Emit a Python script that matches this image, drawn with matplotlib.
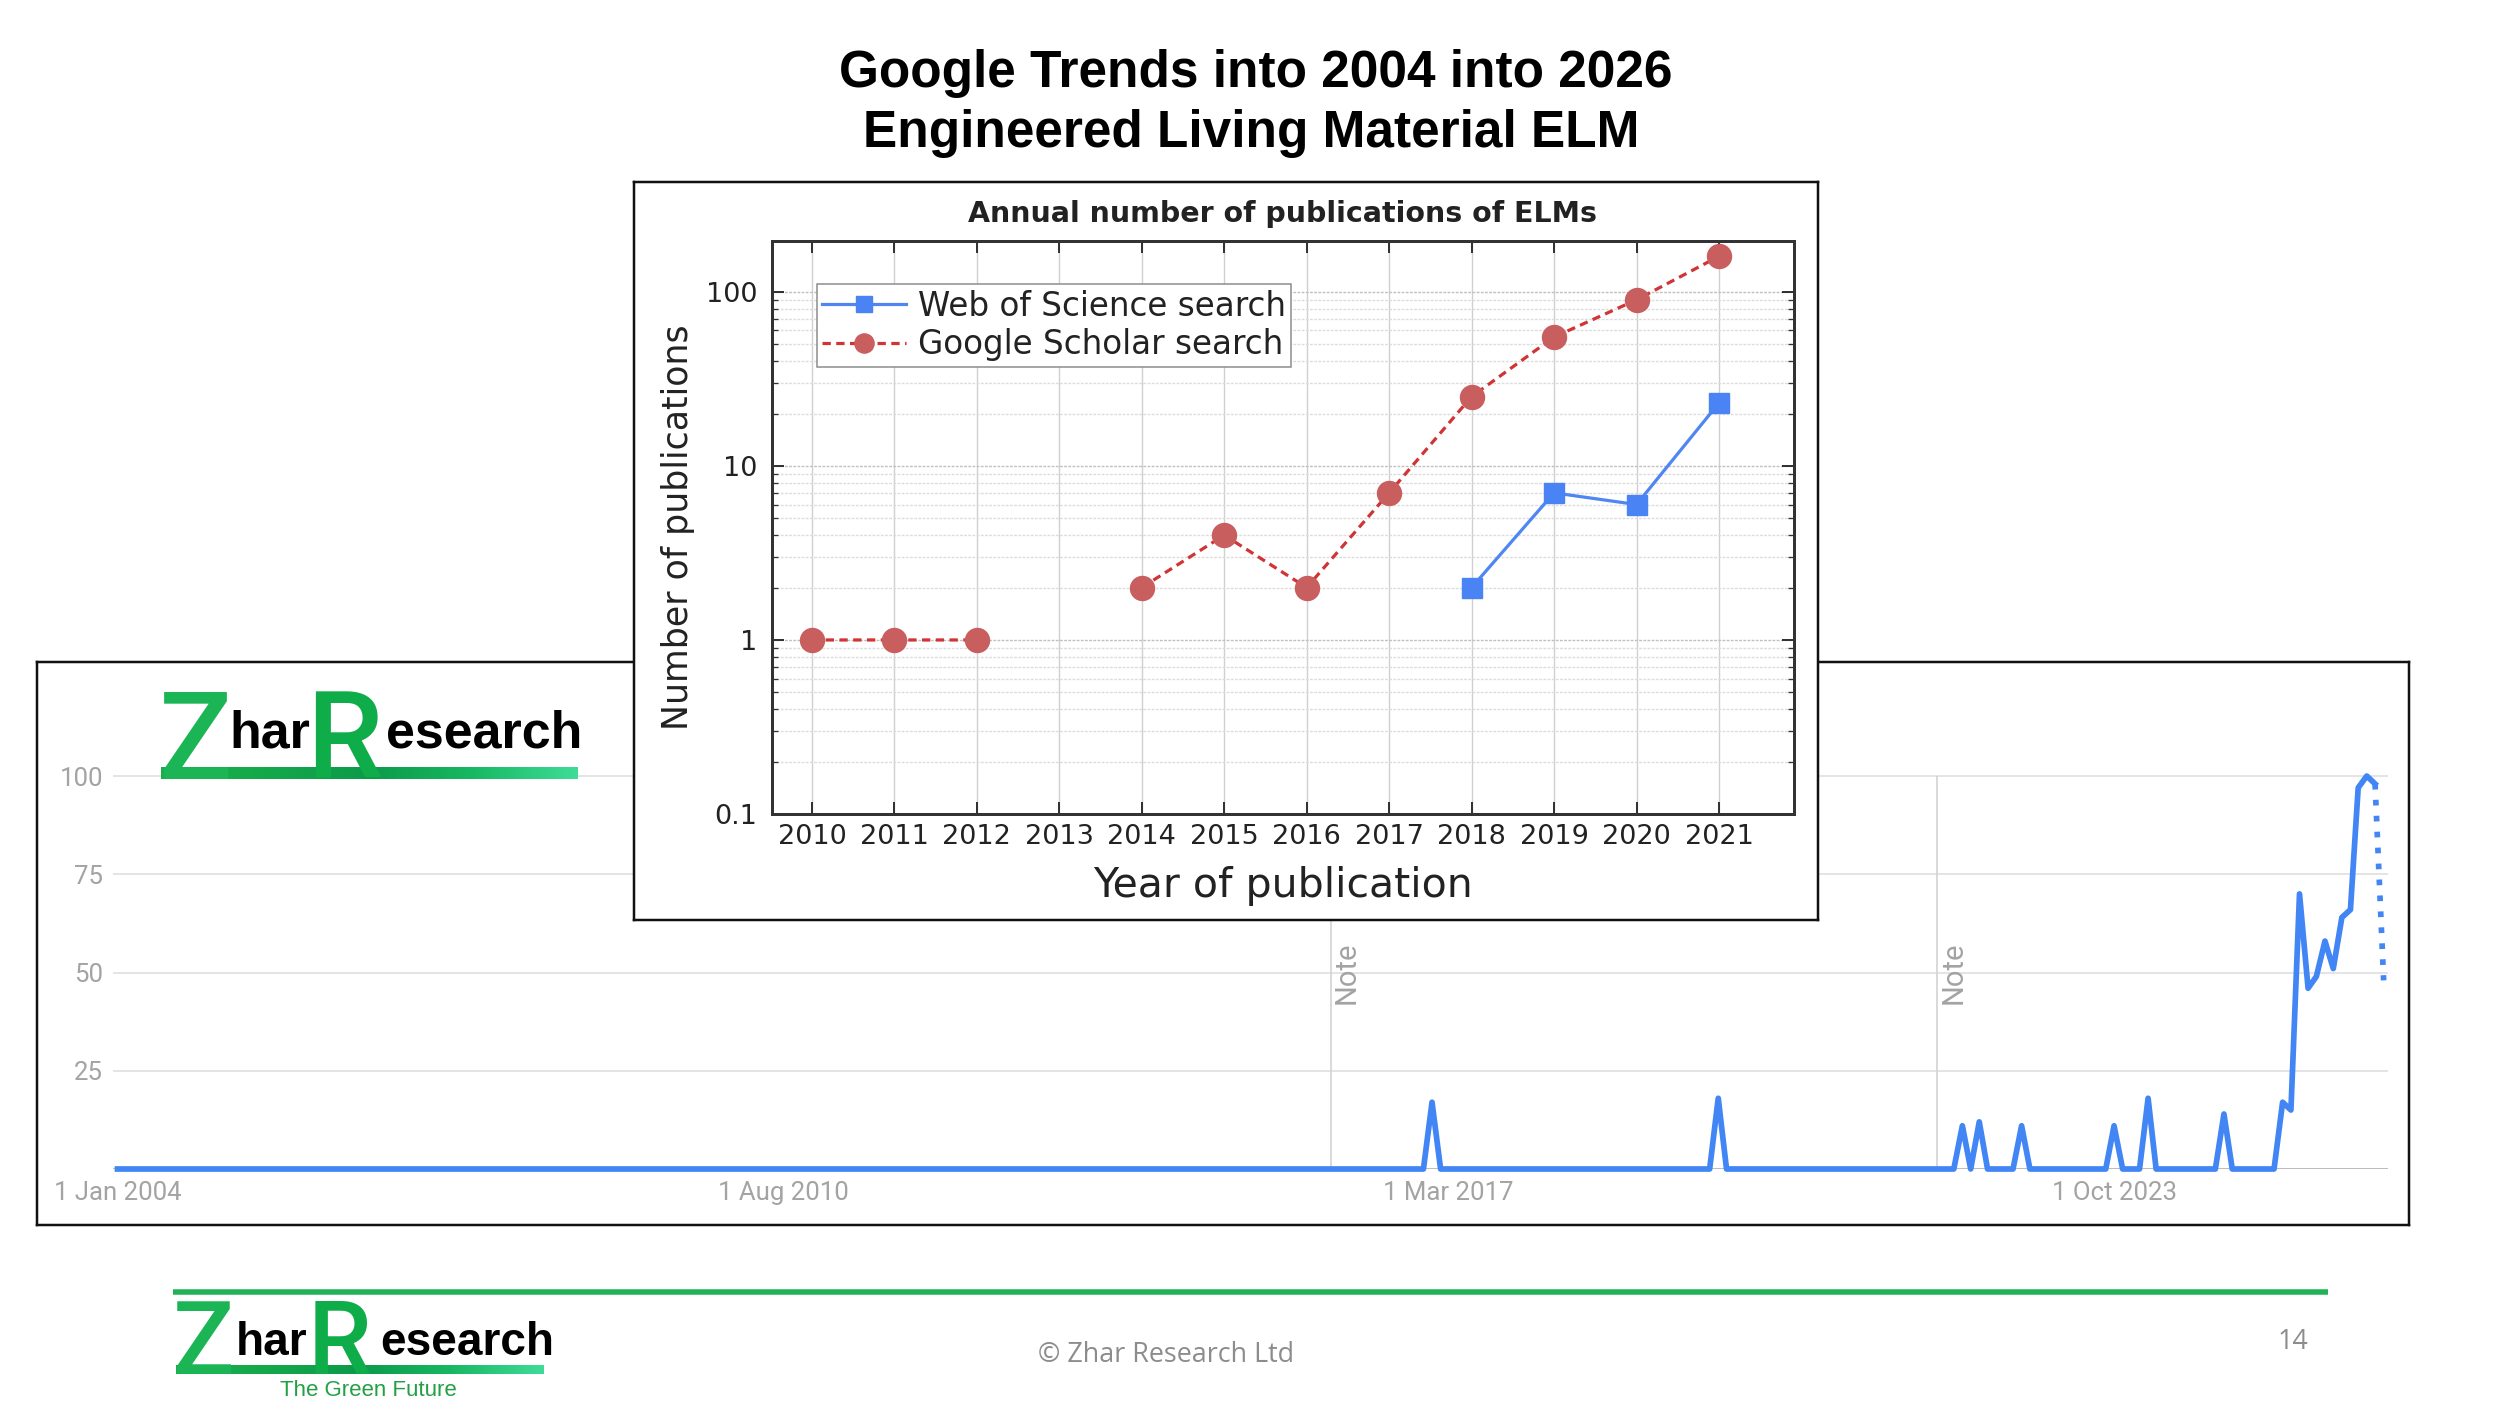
import numpy as np
import pandas as pd
import matplotlib
matplotlib.use("Agg")
import matplotlib.pyplot as plt
import matplotlib.dates as mdates
from matplotlib.ticker import LogLocator, NullFormatter
from matplotlib.colors import LinearSegmentedColormap

# ---------------- data ----------------
title_lines = ["Google Trends into 2004 into 2026", "Engineered Living Material ELM"]

# Google Trends monthly interest (0-100); months not listed are 0
trend_start = "2004-01"
trend_end = "2026-06"
trend_peak_months = ["2017-01", "2019-11", "2022-04", "2022-06", "2022-11", "2023-10",
                     "2024-02", "2024-11", "2025-06", "2025-07", "2025-08", "2025-09",
                     "2025-10", "2025-11", "2025-12", "2026-01", "2026-02", "2026-03",
                     "2026-04", "2026-05", "2026-06"]
trend_peak_values = [17, 18, 11, 12, 11, 11,
                     18, 14, 17, 15, 70, 46,
                     49, 58, 51, 64, 66, 97,
                     100, 98, 48]
trend_xtick_dates = ["2004-01-01", "2010-08-01", "2017-03-01", "2023-10-01"]
trend_xtick_labels = ["1 Jan 2004", "1 Aug 2010", "1 Mar 2017", "1 Oct 2023"]
trend_yticks = [25, 50, 75, 100]
note_dates = ["2016-01-01", "2022-01-01"]

pub_years = [2010, 2011, 2012, 2013, 2014, 2015, 2016, 2017, 2018, 2019, 2020, 2021]
scholar_counts = [1, 1, 1, np.nan, 2, 4, 2, 7, 25, 55, 90, 160]
wos_years = [2018, 2019, 2020, 2021]
wos_counts = [2, 7, 6, 23]
inset_yticks = [0.1, 1, 10, 100]
inset_yticklabels = ["0.1", "1", "10", "100"]

# ---------------- layout helpers ----------------
W, H = 2500, 1406
PT = 0.72  # points per pixel at dpi=100
fig = plt.figure(figsize=(25, 14.06), dpi=100)
fig.patch.set_facecolor("white")


def frac(x0, y0, x1, y1):
    return [x0 / W, 1 - y1 / H, (x1 - x0) / W, (y1 - y0) / H]


def box_axes(rect, z, lw):
    a = fig.add_axes(rect, zorder=z)
    a.set_xticks([])
    a.set_yticks([])
    a.set_facecolor("white")
    for s in a.spines.values():
        s.set_color("#111111")
        s.set_linewidth(lw * PT)
    return a


# ---------------- Google Trends panel ----------------
ax_tbox = box_axes(frac(37, 662, 2409, 1225), 1, 2.5)

ax_t = fig.add_axes(frac(113, 760, 2388, 1169), zorder=2)
ax_t.set_facecolor("none")
for s in ax_t.spines.values():
    s.set_visible(False)

months = pd.period_range(trend_start, trend_end, freq="M")
vals = pd.Series(0.0, index=months)
vals[pd.PeriodIndex(trend_peak_months, freq="M")] = trend_peak_values
tx = mdates.date2num(months.to_timestamp())
tv = vals.values

d0 = mdates.date2num(pd.Timestamp("2004-01-01"))
ax_t.set_xlim(d0 - 16.3, d0 + 8202.7)
ax_t.set_ylim(0, 409 / 3.93)
ax_t.set_yticks(trend_yticks, [str(v) for v in trend_yticks])
ax_t.set_xticks([mdates.date2num(pd.Timestamp(d)) for d in trend_xtick_dates], trend_xtick_labels)
ax_t.tick_params(axis="both", length=0, labelcolor="#a3a3a3", labelsize=18.5)
ax_t.tick_params(axis="y", pad=7.2)
ax_t.tick_params(axis="x", pad=8.5)
for lab in ax_t.get_xticklabels() + ax_t.get_yticklabels():
    lab.set_family("Roboto")
ax_t.grid(axis="y", color="#e4e4e4", lw=2 * PT)
ax_t.set_axisbelow(True)
ax_t.axhline(0, color="#bdbdbd", lw=2 * PT, zorder=1.5)

note_x = [mdates.date2num(pd.Timestamp(d)) for d in note_dates]
ax_t.vlines(note_x, 0, 100, color="#d2d2d2", lw=1.6 * PT, zorder=1.6)
for nx in note_x:
    ax_t.annotate("Note", xy=(nx, 50), xytext=(16 * PT, 0), textcoords="offset points",
                  rotation=90, ha="center", va="center", color="#a3a3a3",
                  fontsize=21, family="Roboto")

ax_t.plot(tx[:-1], tv[:-1], color="#4285f4", lw=5.7 * PT, zorder=3,
          solid_joinstyle="round", clip_on=False)
ax_t.plot(tx[-2:], tv[-2:], color="#4285f4", lw=5.7 * PT, zorder=3,
          ls=(0, (1, 1.8)), dash_capstyle="butt", clip_on=False)

# ---------------- inset publication chart ----------------
ax_ibox = box_axes(frac(634, 182, 1818, 920), 3, 2.5)

ax_in = fig.add_axes(frac(771.5, 241, 1794, 814), zorder=4)
ax_in.set_facecolor("white")
ax_in.set_yscale("log")
ax_in.set_xlim(2009.51, 2021.91)
ax_in.set_ylim(0.1, 196)

l_gs, = ax_in.plot(pub_years, scholar_counts, color="#d03434", ls=(0, (2.6, 1.7)),
                   lw=3.2 * PT, marker="o", ms=24 * PT, mfc="#c95e5e", mec="#c95e5e",
                   label="Google Scholar search", zorder=3)
l_wos, = ax_in.plot(wos_years, wos_counts, color="#4f86f2", lw=3.2 * PT, marker="s",
                    ms=20 * PT, mfc="#4a84f4", mec="#4a84f4",
                    label="Web of Science search", zorder=3)

ax_in.set_xticks(pub_years, [str(y) for y in pub_years])
ax_in.set_yticks(inset_yticks, inset_yticklabels)
ax_in.yaxis.set_minor_locator(LogLocator(base=10, subs=np.arange(2, 10)))
ax_in.yaxis.set_minor_formatter(NullFormatter())
ax_in.tick_params(axis="both", which="major", direction="in", length=12 * PT,
                  width=2 * PT, top=True, right=True, labelsize=19.5,
                  colors="#333333", labelcolor="#222222")
ax_in.tick_params(axis="y", which="minor", direction="in", length=6 * PT,
                  width=1.3 * PT, left=True, right=True, colors="#333333")
ax_in.tick_params(axis="x", which="major", pad=7)
ax_in.tick_params(axis="y", which="major", pad=10)
for s in ax_in.spines.values():
    s.set_color("#333333")
    s.set_linewidth(3 * PT)
ax_in.grid(True, axis="x", which="major", color="#d0d0d0", lw=1.0)
ax_in.grid(True, axis="y", which="major", color="#c0c0c0", lw=1.0, ls=(0, (2, 1)))
ax_in.grid(True, axis="y", which="minor", color="#dcdcdc", lw=1.0, ls=(0, (2, 1)))
ax_in.set_axisbelow(True)

ax_in.set_xlabel("Year of publication", fontsize=29.5, color="#222222", labelpad=12)
ax_in.set_ylabel("Number of publications", fontsize=25, color="#222222", labelpad=8)
ax_in.set_title("Annual number of publications of ELMs", fontsize=20.5,
                fontweight="bold", color="#222222", pad=14)

leg = ax_in.legend(handles=[l_wos, l_gs], loc="upper left",
                   bbox_to_anchor=((816.7 - 771.5) / 1022.5, 1 - (284 - 241) / 573),
                   fontsize=23.5, frameon=True, fancybox=False, framealpha=1,
                   edgecolor="#8a8a8a", borderpad=0.17, labelspacing=0.17,
                   handlelength=2.58, handletextpad=0.34, borderaxespad=0,
                   markerscale=0.8)
leg.get_frame().set_linewidth(1.5 * PT)
for t in leg.get_texts():
    t.set_color("#222222")

# ---------------- overlay: titles, logos, footer ----------------
ax_o = fig.add_axes([0, 0, 1, 1], zorder=10)
ax_o.set_facecolor("none")
ax_o.axis("off")

ax_o.text(1256, 73, title_lines[0], ha="center", va="center", fontsize=37,
          fontweight="bold", family="Liberation Sans", color="black")
ax_o.text(1251, 133, title_lines[1], ha="center", va="center", fontsize=37,
          fontweight="bold", family="Liberation Sans", color="black")

bar_cmap = LinearSegmentedColormap.from_list(
    "zr", ["#19b04c", "#14a84a", "#0c9a4a", "#18b863", "#3fdc98"])
grad = np.linspace(0, 1, 256)[None, :]


def zhar_logo(x, base_big, base_small, big_px, small_px, bar_x1, bar_h,
              x_har, x_r, x_es):
    ax_o.imshow(grad, extent=(x + 3, bar_x1, base_big, base_big - bar_h),
                cmap=bar_cmap, aspect="auto", interpolation="bicubic", zorder=1)
    ax_o.text(x, base_big, "Z", fontsize=big_px * PT, family="Roboto", fontweight=500,
              color="#1bb556", ha="left", va="baseline", zorder=2)
    ax_o.text(x_har, base_small, "har", fontsize=small_px * PT, family="Liberation Sans",
              fontweight="bold", color="black", ha="left", va="baseline", zorder=2)
    ax_o.text(x_r, base_big, "R", fontsize=big_px * PT, family="Roboto", fontweight=500,
              color="#0fad49", ha="left", va="baseline", zorder=2)
    ax_o.text(x_es, base_small, "esearch", fontsize=small_px * PT, family="Liberation Sans",
              fontweight="bold", color="black", ha="left", va="baseline", zorder=2)


zhar_logo(158, 779, 747, 122, 52, 578, 12, 229, 306, 386)
zhar_logo(173, 1374, 1355, 102, 46, 544, 9, 236, 308, 380)
ax_o.text(368, 1390, "The Green Future", ha="center", va="center", fontsize=16,
          family="Liberation Sans", color="#23a043")

ax_o.plot([173, 2328], [1291.5, 1291.5], color="#20b356", lw=5.5 * PT,
          solid_capstyle="butt")
ax_o.text(1165.5, 1355, "© Zhar Research Ltd", ha="center", va="center",
          fontsize=19.4, family="Open Sans", color="#8c8c8c")
ax_o.text(2293, 1342, "14", ha="center", va="center", fontsize=19.4,
          family="Open Sans", color="#8c8c8c")

ax_o.set_xlim(0, W)
ax_o.set_ylim(H, 0)

fig.savefig("out.png", dpi=100, facecolor="white")
